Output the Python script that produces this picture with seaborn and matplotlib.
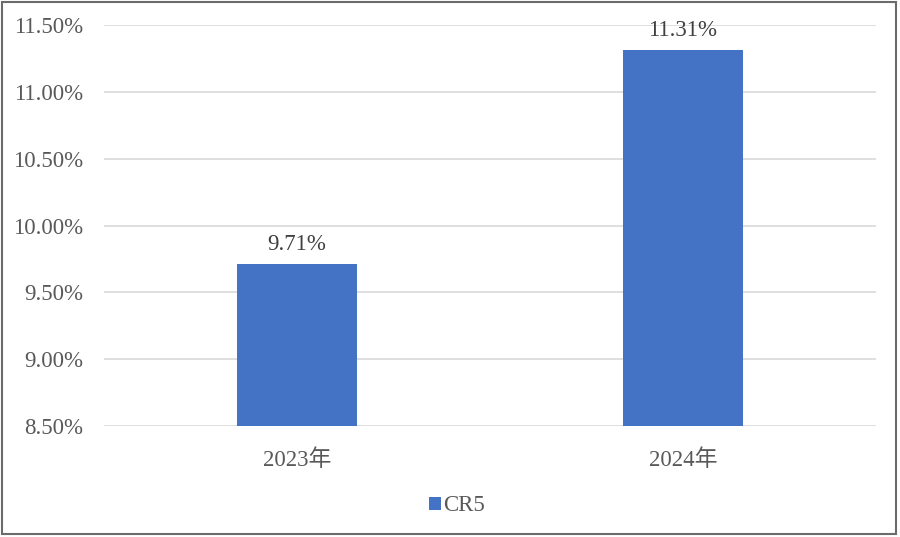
import matplotlib
matplotlib.use("Agg")
import matplotlib.pyplot as plt
import seaborn as sns
import pandas as pd
from matplotlib.patches import Rectangle, Patch
from matplotlib.ticker import FuncFormatter

years = ["2023年", "2024年"]
cr5 = [9.71, 11.31]
series_name = "CR5"

sns.set_theme(style="white")
plt.rcParams['font.family'] = ['Liberation Serif', 'Noto Sans CJK SC', 'DejaVu Sans']

df = pd.DataFrame({"year": years, "value": cr5})

fig = plt.figure(figsize=(9, 5.37), dpi=100)
ax = fig.add_axes([0.1156, 0.2067, 0.8577, 0.7467])

sns.barplot(data=df, x="year", y="value", color="#4472C4", width=0.31,
            saturation=1, ax=ax, zorder=3, linewidth=0)
# bars start from axis bottom
for p in ax.patches:
    p.set_y(8.5)
    p.set_height(p.get_height() - 8.5)

ax.set_ylim(8.5, 11.5)
ax.set_yticks([8.5, 9.0, 9.5, 10.0, 10.5, 11.0, 11.5])
ax.yaxis.set_major_formatter(FuncFormatter(lambda v, _: f"{v:.2f}%"))
ax.grid(axis="y", color="#D9D9D9", linewidth=1.2, zorder=0)
ax.set_axisbelow(True)
for s in ax.spines.values():
    s.set_visible(False)
ax.tick_params(axis="y", length=0, pad=15, labelsize=16.5, labelcolor="#595959")
ax.tick_params(axis="x", length=0, pad=17, labelsize=16.5, labelcolor="#595959")
ax.set_xlabel("")
ax.set_ylabel("")

for i, v in enumerate(cr5):
    ax.text(i, v + 0.07, f"{v:.2f}%", ha="center", va="bottom",
            fontsize=16.5, color="#404040")

handles = [Patch(facecolor="#4472C4", edgecolor="none", label=series_name)]
fig.legend(handles=handles, loc="center", bbox_to_anchor=(0.508, 0.058),
           frameon=False, fontsize=16.5, handlelength=0.5, handleheight=0.5,
           handletextpad=0.1, labelcolor="#595959")

fig.patches.append(Rectangle((0.002, 0.006), 0.994, 0.99, transform=fig.transFigure,
                             fill=False, edgecolor="#6b6b6b", linewidth=1.5))

fig.savefig("out.png", dpi=100)
